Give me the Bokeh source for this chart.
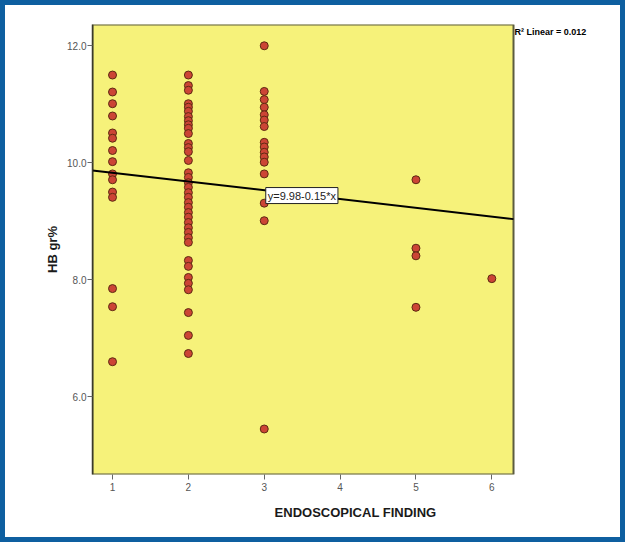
from bokeh.plotting import figure
from bokeh.models import Range1d, FixedTicker, PrintfTickFormatter, Label, ColumnDataSource, Title
from bokeh.embed import file_html
from bokeh.resources import INLINE

# ---- data ----
finding_levels = [1, 2, 3, 5, 6]
hb_finding_1 = [11.5, 11.21, 11.01, 10.8, 10.51, 10.42, 10.21, 10.02, 9.81, 9.71, 9.5, 9.41, 7.85, 7.54, 6.6]
hb_finding_2 = [11.5, 11.32, 11.24, 11.01, 10.95, 10.88, 10.79, 10.72, 10.65, 10.59, 10.5,
                10.33, 10.26, 10.19, 10.04, 9.83, 9.75, 9.66, 9.58, 9.49, 9.41, 9.32, 9.24,
                9.15, 9.07, 8.98, 8.89, 8.81, 8.72, 8.64, 8.33, 8.23, 8.04, 7.94, 7.83,
                7.44, 7.05, 6.74]
hb_finding_3 = [12.0, 11.22, 11.08, 10.95, 10.82, 10.73, 10.62, 10.35, 10.27, 10.18, 10.1,
                10.01, 9.81, 9.31, 9.01, 5.45]
hb_finding_5 = [9.71, 8.54, 8.41, 7.53]
hb_finding_6 = [8.02]

x_ticks = [1, 2, 3, 4, 5, 6]
y_ticks = [6, 8, 10, 12]
fit_intercept = 9.98
fit_slope = -0.15
fit_text = "y=9.98-0.15*x"
r2_text = "R\u00b2 Linear = 0.012"
x_title = "ENDOSCOPICAL FINDING"
y_title = "HB gr%"

groups = [hb_finding_1, hb_finding_2, hb_finding_3, hb_finding_5, hb_finding_6]
xs, ys = [], []
for lvl, vals in zip(finding_levels, groups):
    xs.extend([lvl] * len(vals))
    ys.extend(vals)
src = ColumnDataSource(data=dict(x=xs, y=ys))

# plotting-area extents (data units) and the extended canvas area on the right
x0, x1 = 0.736, 6.286
y0, y1 = 4.672, 12.364
x_view_end = 7.67

p = figure(width=615, height=532, output_backend="svg", toolbar_location=None,
           x_range=Range1d(x0, x_view_end), y_range=Range1d(y0, y1),
           min_border_left=87, min_border_right=12, min_border_top=19, min_border_bottom=73)

p.background_fill_color = "white"
p.border_fill_color = "white"
p.outline_line_color = None
p.grid.visible = False

p.styles = {"border": "5px solid #0e5fa0", "box-sizing": "content-box"}

# yellow plot area with its frame
p.quad(left=[x0], right=[x1], bottom=[y0], top=[y1], fill_color="#f6f27a",
       line_color="#5c5c40", line_width=2)

for ax in (p.xaxis[0], p.yaxis[0]):
    ax.major_tick_in = 0
    ax.major_tick_out = 5
    ax.major_tick_line_color = "#666666"
    ax.minor_tick_line_color = None
    ax.major_label_text_font = "Liberation Sans"
    ax.major_label_text_font_size = "10px"
    ax.major_label_text_color = "#555555"
    ax.axis_label_text_font = "Liberation Sans"
    ax.axis_label_text_font_size = "13px"
    ax.axis_label_text_font_style = "bold"
    ax.axis_label_text_color = "#1a1a1a"

p.xaxis.axis_line_color = None
p.yaxis.axis_line_color = "#3a3a2a"
p.yaxis.axis_line_width = 1.5
p.xaxis.ticker = FixedTicker(ticks=x_ticks)
p.yaxis.ticker = FixedTicker(ticks=y_ticks)
p.yaxis.formatter = PrintfTickFormatter(format="%.1f")
p.yaxis.axis_label = y_title
p.xaxis.major_label_standoff = 3
p.yaxis.major_label_standoff = 1
p.yaxis.axis_label_standoff = 4

p.add_layout(Title(text=x_title, align="center", offset=-53, standoff=18,
                   text_font="Liberation Sans", text_font_size="13px",
                   text_font_style="bold", text_color="#1a1a1a"), "below")

p.scatter("x", "y", source=src, size=8, fill_color="#cc4535", line_color="#5e2a12", line_width=1)

p.line([x0, x1], [fit_intercept + fit_slope * x0, fit_intercept + fit_slope * x1],
       line_color="black", line_width=2)

p.add_layout(Label(x=3.02, y=9.44, text=fit_text, text_font="Liberation Sans",
                   text_font_size="11px", text_color="#222222", text_baseline="middle",
                   background_fill_color="white", border_line_color="#222222",
                   border_line_width=1, padding=2))

p.add_layout(Label(x=x1, y=12.23, text=r2_text, x_offset=1, text_font="Liberation Sans",
                   text_font_size="9px", text_font_style="bold", text_color="black",
                   text_baseline="middle"))

open("out.html", "w").write(file_html(p, INLINE))
